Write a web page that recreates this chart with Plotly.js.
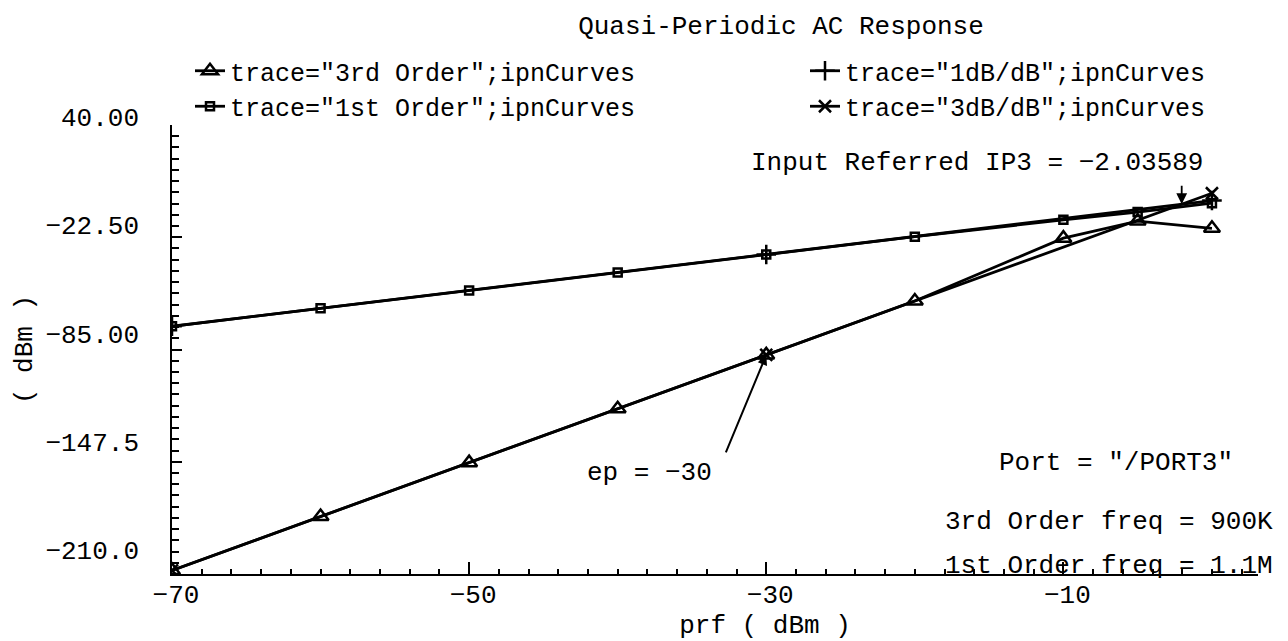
<!DOCTYPE html>
<html>
<head>
<meta charset="utf-8">
<script src="https://cdn.plot.ly/plotly-3.0.1.min.js"></script>
<style>html,body{margin:0;padding:0;background:#fff;}#chart{width:1288px;height:641px;}</style>
</head>
<body>
<div id="chart"></div>
<script>
// ---- data ----
const prf = [-70, -60, -50, -40, -30, -20, -10, -5, 0];
const thirdOrder = [-208, -178, -148, -118, -88, -58, -23, -13.5, -17.5];
const firstOrder = [-72.1, -62.1, -52.1, -42.1, -32.1, -22.2, -12.8, -8.5, -3.5];
const extrapPrf = [-70, -30, 0];
const oneDbPerDb = [-72.07, -32.07, -2.07];
const threeDbPerDb = [-208, -88, 2];
const ip3Input = -2.03589;
const ip3Output = -4.07;
const epValue = -30;
const epOutput = -88;
const yTickVals = [40, -22.5, -85, -147.5, -210];
const yTickText = ["40.00", "\u221222.50", "\u221285.00", "\u2212147.5", "\u2212210.0"];
const xTickVals = [-70, -50, -30, -10];
const xTickText = ["\u221270", "\u221250", "\u221230", "\u221210"];
const traceNames = [
  'trace="3rd Order";ipnCurves',
  'trace="1st Order";ipnCurves',
  'trace="1dB/dB";ipnCurves',
  'trace="3dB/dB";ipnCurves'
];

const FONT = '"Liberation Mono", "DejaVu Sans Mono", monospace';
const BLK = '#000000';

function tr(x, y, name, symbol, size, legendId) {
  return {
    type: 'scatter', mode: 'lines+markers', x: x, y: y, name: name, legend: legendId,
    line: {color: BLK, width: 2.8},
    marker: {symbol: symbol, size: size, color: BLK, line: {color: BLK, width: 2.5}},
    hoverinfo: 'x+y+name'
  };
}

const data = [
  tr(prf, thirdOrder, traceNames[0], 'triangle-up-open', 14, 'legend'),
  tr(prf, firstOrder, traceNames[1], 'square-open', 8, 'legend'),
  tr(extrapPrf, oneDbPerDb, traceNames[2], 'cross-thin-open', 14, 'legend2'),
  tr(extrapPrf, threeDbPerDb, traceNames[3], 'x-thin-open', 12, 'legend2'),
  {type: 'scatter', x: [], y: [], xaxis: 'x2', yaxis: 'y2', showlegend: false, hoverinfo: 'skip'}
];

// plot area: x 172..1258, y 117..574 (yaxis line drawn 125..574)
const L = 172, R = 1258, T = 117, B = 574;
const W = R - L, H = B - T;
const px = v => (v - L) / W;
const py = v => (B - v) / H;

const legendStyle = (left) => ({
  orientation: 'v', x: px(left), y: py(48), xanchor: 'left', yanchor: 'top',
  itemwidth: 30, traceorder: 'normal',
  font: {family: FONT, size: 25, color: BLK}, bgcolor: 'rgba(0,0,0,0)', borderwidth: 0
});

const layout = {
  width: 1288, height: 641,
  paper_bgcolor: '#fff', plot_bgcolor: 'rgba(0,0,0,0)',
  font: {family: FONT, size: 26, color: BLK},
  margin: {l: L, r: 1288 - R, t: T, b: 641 - B, pad: 0},
  title: {text: 'Quasi-Periodic AC Response', font: {family: FONT, size: 26, color: BLK},
          xref: 'container', yref: 'container', x: 781 / 1288, y: 1 - 25 / 641,
          xanchor: 'center', yanchor: 'middle'},
  showlegend: true,
  legend: legendStyle(190),
  legend2: legendStyle(805),
  xaxis: {
    domain: [0, 1], anchor: 'y', range: [-70, 3.1],
    tickmode: 'array', tickvals: xTickVals, ticktext: xTickText,
    ticks: 'inside', ticklen: 12, tickwidth: 1.5, tickcolor: BLK,
    minor: {dtick: 2, tick0: -70, ticks: 'inside', ticklen: 5, tickwidth: 1.5, tickcolor: BLK, showgrid: false},
    showline: true, linecolor: BLK, linewidth: 2,
    showgrid: false, zeroline: false,
    ticklabelshift: 4, ticklabelstandoff: -4,
    tickfont: {family: FONT, size: 26, color: BLK}
  },
  yaxis: {
    domain: [0, (B - 125) / H], anchor: 'x', range: [-210, 40],
    tickmode: 'linear', tick0: -210, dtick: 62.5,
    ticks: 'inside', ticklen: 10, tickwidth: 1.5, tickcolor: BLK,
    minor: {dtick: 6.25, tick0: -210, ticks: 'inside', ticklen: 7, tickwidth: 1.5, tickcolor: BLK, showgrid: false},
    showline: true, linecolor: BLK, linewidth: 2,
    showticklabels: false, showgrid: false, zeroline: false,
    title: {text: '( dBm )', font: {family: FONT, size: 26, color: BLK}, standoff: 130}
  },
  // label-only axes (the reference prints its tick labels on a slightly different scale)
  yaxis2: {
    domain: [(B - 550) / H, 1], anchor: 'free', position: 0, range: [-210, 40],
    tickmode: 'array', tickvals: yTickVals, ticktext: yTickText,
    ticks: '', showline: false, showgrid: false, zeroline: false,
    ticklabelstandoff: 33,
    tickfont: {family: FONT, size: 26, color: BLK}
  },
  xaxis2: {
    domain: [px(272), 1], anchor: 'free', position: 0, range: [0, 1],
    showticklabels: false, ticks: '', showline: false, showgrid: false, zeroline: false,
    title: {text: 'prf ( dBm )', font: {family: FONT, size: 26, color: BLK}, standoff: 42}
  },
  annotations: [
    {xref: 'paper', yref: 'paper', x: px(977), y: py(163), xanchor: 'center', yanchor: 'middle',
     text: 'Input Referred IP3 = \u22122.03589', showarrow: false, font: {family: FONT, size: 26, color: BLK}},
    {xref: 'x', yref: 'y', x: ip3Input, y: ip3Output, text: '', showarrow: true,
     axref: 'pixel', ayref: 'pixel', ax: 0, ay: -20, arrowhead: 2, arrowsize: 1.2, arrowwidth: 1.8, arrowcolor: BLK},
    {xref: 'x', yref: 'y', x: epValue, y: epOutput, text: '', showarrow: true,
     axref: 'pixel', ayref: 'pixel', ax: -41, ay: 99, arrowhead: 2, arrowsize: 1, arrowwidth: 2, arrowcolor: BLK},
    {xref: 'paper', yref: 'paper', x: px(649), y: py(473), xanchor: 'center', yanchor: 'middle',
     text: 'ep = \u221230', showarrow: false, font: {family: FONT, size: 26, color: BLK}},
    {xref: 'paper', yref: 'paper', x: px(1235), y: py(463), xanchor: 'right', yanchor: 'middle',
     text: 'Port = "/PORT3"', showarrow: false, font: {family: FONT, size: 26, color: BLK}},
    {xref: 'paper', yref: 'paper', x: px(1275), y: py(522), xanchor: 'right', yanchor: 'middle',
     text: '3rd Order freq = 900K', showarrow: false, font: {family: FONT, size: 26, color: BLK}},
    {xref: 'paper', yref: 'paper', x: px(1275), y: py(566), xanchor: 'right', yanchor: 'middle',
     text: '1st Order freq = 1.1M', showarrow: false, font: {family: FONT, size: 26, color: BLK}}
  ]
};

Plotly.newPlot('chart', data, layout, {displayModeBar: false, responsive: false});
</script>
</body>
</html>
